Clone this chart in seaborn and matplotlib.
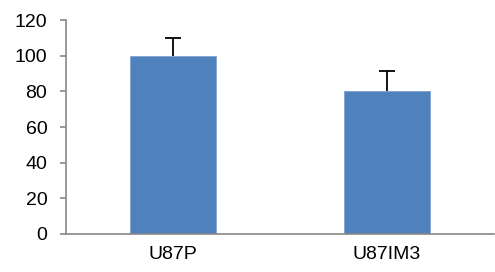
import pandas as pd
import matplotlib
matplotlib.use("Agg")
import matplotlib.pyplot as plt
import seaborn as sns

# data
cells = ["U87P", "U87IM3"]
values = [100, 80.5]
err_up = [10, 11]
yticks = [0, 20, 40, 60, 80, 100, 120]

df = pd.DataFrame({"cell": cells, "value": values})

sns.set_style("white")
plt.rcParams['font.family'] = ['Liberation Sans', 'DejaVu Sans']

fig = plt.figure(figsize=(4.95, 2.72), dpi=100)
ax = fig.add_axes([0.133, 0.14, 0.865, 0.786])

sns.barplot(data=df, x="cell", y="value", color="#4F81BD", width=0.4,
            saturation=1, edgecolor="#7FA3CF", linewidth=0.6, ax=ax)
# upper error only
eb = ax.errorbar(range(len(cells)), values, yerr=[[0] * len(cells), err_up],
                 fmt="none", ecolor="black", elinewidth=1.3, capsize=6, capthick=1.3)
eb[1][0].set_visible(False)  # hide the lower caps

ax.set_xlim(-0.5, 1.5)
ax.set_ylim(0, 120)
ax.set_yticks(yticks)
ax.set_xlabel("")
ax.set_ylabel("")

for s in ["top", "right"]:
    ax.spines[s].set_visible(False)
for s in ["left", "bottom"]:
    ax.spines[s].set_color("#888888")
    ax.spines[s].set_linewidth(1.2)

# Excel-style ticks: marks at category boundaries, labels centred
ax.set_xticks([-0.5, 0.5, 1.5], minor=True)
ax.tick_params(axis="x", which="major", length=0, labelsize=14, pad=9, labelcolor="black")
ax.tick_params(axis="x", which="minor", length=4.3, width=1.2, color="#888888", direction="out")
ax.tick_params(axis="y", length=4.3, width=1.2, color="#888888", direction="out",
               labelsize=14, pad=9, left=True, labelcolor="black")

fig.savefig("out.png", dpi=100)
